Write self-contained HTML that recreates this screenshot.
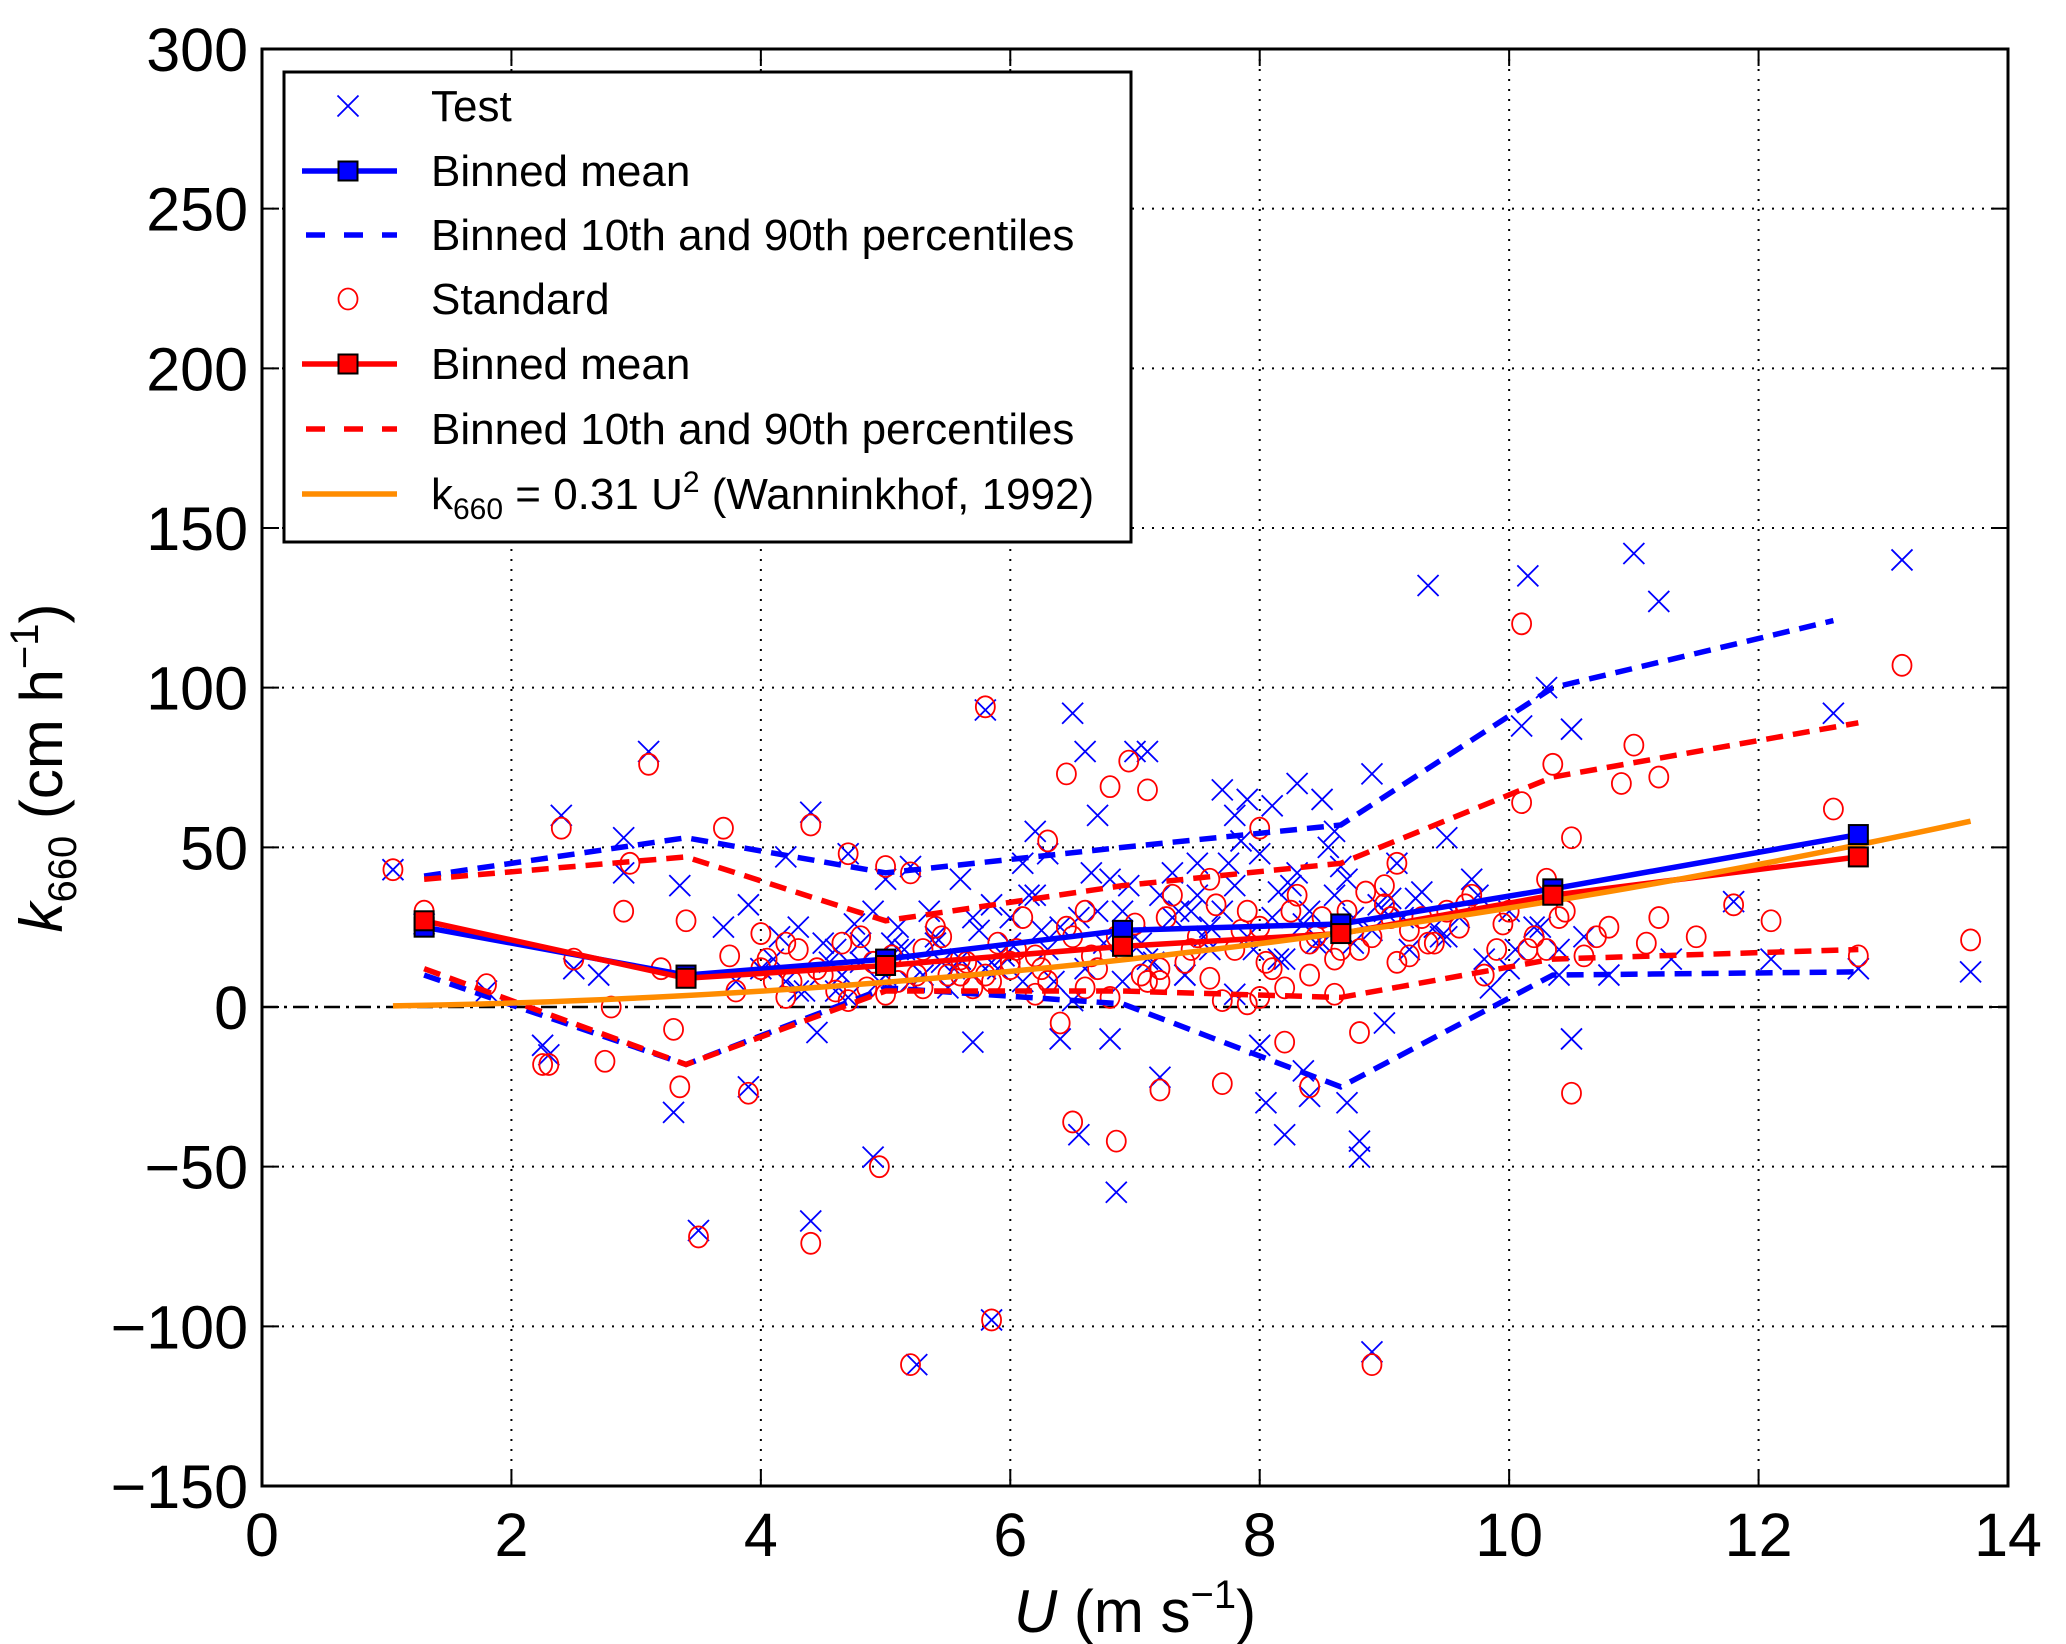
<!DOCTYPE html>
<html><head><meta charset="utf-8"><style>
html,body{margin:0;padding:0;background:#fff;}
svg{display:block;font-family:"Liberation Sans",sans-serif;}
</style></head><body>
<svg id="chart" width="2066" height="1644" viewBox="0 0 2066 1644" xmlns="http://www.w3.org/2000/svg">
<rect width="2066" height="1644" fill="#fff"/>
<g id="grid"></g>
<g id="series"></g>
<g id="axes"></g>
<text x="1135" y="1632" font-size="60" text-anchor="middle"><tspan font-style="italic">U</tspan> (m s<tspan font-size="40" dy="-24">−1</tspan><tspan dy="24">)</tspan></text>
<text transform="translate(62,768) rotate(-90)" font-size="60" text-anchor="middle"><tspan font-style="italic">k</tspan><tspan font-size="40" dy="14">660</tspan><tspan dy="-14"> (cm h</tspan><tspan font-size="40" dy="-24">−1</tspan><tspan dy="24">)</tspan></text>
<g id="legend"></g>
</svg>
<script>
const NS="http://www.w3.org/2000/svg";
const xTicks=[0,2,4,6,8,10,12,14];
const yTicks=[300,250,200,150,100,50,0,-50,-100,-150];
const yTickLabels=["300","250","200","150","100","50","0","−50","−100","−150"];
const binX=[1.3,3.4,5.0,6.9,8.65,10.35,12.8];
const blueMean=[25,10,15,24,26,37,54];
const redMean=[27,9,13,19,23,35,47];
const blueP90X=[1.3,3.4,5.0,6.9,8.65,10.35,12.6];
const blueP90=[41,53,42,50,57,100,121];
const blueP10=[10,-18,6,1,-25,10,11];
const redP90=[40,47,27,38,45,72,89];
const redP10=[12,-18,5,5,3,15,18];
const wannCoef=[0.31];
const wannRange=[1.05,13.7];
const testX=[1.05,1.3,1.8,2.25,2.3,2.4,2.5,2.7,2.9,2.9,3.1,3.3,3.35,3.5,3.7,3.8,3.9,3.9,4.1,4.2,4.3,4.4,4.4,4.45,4.6,4.7,4.8,4.9,5.0,5.0,5.1,5.25,5.2,5.4,5.6,5.7,5.8,5.85,6.0,6.1,6.2,6.3,6.4,6.5,6.55,6.6,6.7,6.8,6.85,6.9,7.0,7.1,7.2,7.3,7.5,7.6,7.7,7.8,7.9,8.0,8.05,8.1,8.2,8.3,8.35,8.4,8.5,8.6,8.7,8.8,8.8,8.9,8.9,9.0,9.1,9.35,9.4,9.5,9.7,10.0,10.1,10.15,10.3,10.4,10.5,10.5,10.8,11.0,11.2,11.3,11.8,12.1,12.6,12.8,13.15,13.7,
4.0,4.2,4.5,4.6,4.8,4.9,5.1,5.3,5.4,5.5,5.6,5.7,5.9,6.0,6.1,6.2,6.3,6.4,6.6,6.7,6.8,7.0,7.1,7.2,7.3,7.4,7.5,7.6,7.7,7.8,7.9,8.0,8.1,8.2,8.3,8.4,8.5,8.6,8.7,8.9,9.0,9.2,9.3,9.5,9.6,9.8,10.0,10.2,10.4,10.6,4.3,4.7,5.2,5.8,6.5,6.9,7.4,7.8,8.15,8.45,8.75,9.25,9.85,
4.15,4.35,4.55,4.75,4.95,5.15,5.35,5.55,5.75,5.95,6.15,6.35,6.55,6.75,6.95,7.15,7.35,7.55,7.75,7.95,8.15,8.35,8.55,8.75,8.95,9.15,9.45,9.75,10.05,10.25,4.65,5.05,5.45,5.85,6.25,6.65,7.05,7.45,7.85,8.25,8.65,9.05];
const testY=[43,26,5,-12,-15,60,12,10,53,42,80,-33,38,-70,25,8,32,-25,15,47,25,61,-67,-8,18,48,20,-47,40,10,25,-112,44,20,40,-11,93,-98,28,45,55,48,-10,92,-40,80,60,-10,-58,30,80,80,-22,42,35,25,68,60,65,-12,-30,63,-40,70,-20,-28,65,55,-30,-42,-47,-108,73,-5,45,132,25,53,40,12,88,135,100,10,-10,87,10,142,127,15,33,15,92,12,140,11,
12,8,20,5,14,30,18,10,22,6,15,28,12,20,8,35,18,25,12,30,40,22,15,35,28,10,45,18,30,38,22,48,28,15,42,30,20,35,40,24,30,18,36,22,28,15,30,25,18,22,5,3,8,12,2,8,10,4,15,20,28,34,6,
22,5,14,26,8,18,30,12,24,16,35,8,28,20,38,14,30,22,45,18,36,26,50,20,32,28,22,35,18,25,10,20,14,32,24,42,20,30,52,38,44,34];
const stdX=[1.05,1.3,1.8,2.25,2.3,2.4,2.5,2.75,2.8,2.9,2.95,3.1,3.2,3.3,3.35,3.4,3.5,3.7,3.75,3.9,4.0,4.2,4.4,4.4,4.7,4.95,5.0,5.2,5.2,5.8,5.85,6.3,6.4,6.45,6.5,6.8,6.85,6.95,7.1,7.2,7.7,7.9,8.0,8.2,8.4,8.8,8.9,9.0,9.1,9.5,10.1,10.1,10.3,10.35,10.5,10.5,10.9,11.0,11.2,11.2,11.8,12.1,12.6,12.8,13.15,13.7,
3.8,4.0,4.1,4.3,4.5,4.6,4.8,4.9,5.1,5.3,5.4,5.5,5.6,5.7,5.9,6.0,6.1,6.2,6.3,6.5,6.6,6.7,6.9,7.0,7.1,7.3,7.4,7.5,7.6,7.8,7.9,8.0,8.1,8.3,8.4,8.5,8.6,8.7,8.9,9.0,9.2,9.3,9.4,9.6,9.7,9.9,10.0,10.2,10.4,10.6,10.8,11.1,4.2,4.7,5.3,5.8,6.2,6.8,7.2,7.7,8.2,8.6,9.1,9.8,10.3,11.5,
4.05,4.25,4.45,4.65,4.85,5.05,5.25,5.45,5.65,5.85,6.05,6.25,6.45,6.65,6.85,7.05,7.25,7.45,7.65,7.85,8.05,8.25,8.45,8.65,8.85,9.05,9.35,9.65,9.95,10.15,10.45,10.7,5.0,5.6,6.0,6.6,7.2,7.6,8.0,8.4,8.8,9.2];
const stdY=[43,30,7,-18,-18,56,15,-17,0,30,45,76,12,-7,-25,27,-72,56,16,-27,23,20,57,-74,48,-50,44,-112,42,94,-98,52,-5,73,-36,69,-42,77,68,-26,-24,1,56,-11,-25,-8,-112,32,45,30,64,120,40,76,53,-27,70,82,72,28,32,27,62,16,107,21,
5,12,8,18,10,5,22,14,8,18,25,10,15,6,20,12,28,16,8,22,30,12,18,26,8,35,14,22,40,18,30,25,12,35,20,28,15,30,22,38,16,28,20,25,35,18,30,22,28,16,25,20,3,2,6,10,4,3,8,2,6,4,14,10,18,22,
15,8,12,20,6,16,10,22,14,8,18,12,25,16,22,10,28,18,32,24,14,30,22,18,36,28,20,32,26,18,30,22,4,10,14,6,12,9,3,10,18,24];

const L=262,R=2008,T=49,B=1486;
const sx=v=>L+(v-0)/(14-0)*(R-L);
const sy=v=>T+(300-v)/(300-(-150))*(B-T);
function el(tag,attrs,parent){const e=document.createElementNS(NS,tag);for(const k in attrs)e.setAttribute(k,attrs[k]);parent.appendChild(e);return e;}
const grid=document.getElementById('grid'),series=document.getElementById('series'),axes=document.getElementById('axes'),legend=document.getElementById('legend');

xTicks.forEach((t,i)=>{
  const x=sx(t);
  if(i>0&&i<xTicks.length-1){const g=el('line',{x1:x,x2:x,y1:T,y2:B,stroke:'#000','stroke-width':2,'stroke-dasharray':'2,8'},grid);
  
  }
  const tk=el('path',{d:`M${x},${B}v-17M${x},${T}v17`,stroke:'#000','stroke-width':2},axes);
  
  
  const lb=el('text',{x:x,y:1556,'font-size':61,'text-anchor':'middle'},axes);
  lb.textContent=String(t);
  
  
});
yTicks.forEach((t,i)=>{
  const y=sy(t);
  if(i>0&&i<yTicks.length-1&&t!==0){const g=el('line',{x1:L,x2:R,y1:y,y2:y,stroke:'#000','stroke-width':2,'stroke-dasharray':'2,8'},grid);
  
  }
  const tk=el('path',{d:`M${L},${y}h17M${R},${y}h-17`,stroke:'#000','stroke-width':2},axes);
  
  
  const lb=el('text',{x:248,y:y+22,'font-size':61,'text-anchor':'end'},axes);
  lb.textContent=yTickLabels[i];
  
  
});
const zl=el('line',{x1:L,x2:R,y1:sy(0),y2:sy(0),stroke:'#000','stroke-width':2.5,'stroke-dasharray':'16,6,3,6'},grid);



const blue='#0000ff',red='#ff0000',orange='#ff8c00';
function cross(x,y,c,parent){const s=10.5;const p=el('path',{d:`M${x-s},${y-s}L${x+s},${y+s}M${x-s},${y+s}L${x+s},${y-s}`,stroke:c,'stroke-width':1.8,fill:'none'},parent);return p;}
function circ(x,y,c,parent){return el('ellipse',{cx:x,cy:y,rx:9.5,ry:10.5,stroke:c,'stroke-width':1.8,fill:'none'},parent);}
testX.forEach((v,i)=>{const p=cross(sx(v),sy(testY[i]),blue,series);
  
  });
stdX.forEach((v,i)=>{const p=circ(sx(v),sy(stdY[i]),red,series);
  
  });
function poly(xs,ys,c,dash,name){const d=xs.map((v,i)=>(i?'L':'M')+sx(v)+','+sy(ys[i])).join('');
  const p=el('path',{d:d,stroke:c,'stroke-width':5.5,fill:'none','stroke-dasharray':dash?'17,10':'none'},series);
  
  }
poly(blueP90X,blueP90,blue,true,'test-p90-line');
poly(binX,blueP10,blue,true,'test-p10-line');
poly(binX,redP90,red,true,'standard-p90-line');
poly(binX,redP10,red,true,'standard-p10-line');
poly(binX,blueMean,blue,false,'test-binned-mean-line');
poly(binX,redMean,red,false,'standard-binned-mean-line');
(function(){let d='';const n=60;for(let i=0;i<=n;i++){const u=wannRange[0]+(wannRange[1]-wannRange[0])*i/n;d+=(i?'L':'M')+sx(u)+','+sy(wannCoef[0]*u*u);}
 const p=el('path',{d:d,stroke:orange,'stroke-width':5.5,fill:'none'},series);
 
 })();
function squares(ys,c,name){binX.forEach((v,i)=>{const q=el('rect',{x:sx(v)-9.5,y:sy(ys[i])-9.5,width:19,height:19,fill:c,stroke:'#000','stroke-width':2},series);
  
  });}
squares(blueMean,blue,'test-binned-mean-marker');
squares(redMean,red,'standard-binned-mean-marker');

const frame=el('rect',{x:L,y:T,width:R-L,height:B-T,fill:'none',stroke:'#000','stroke-width':3},axes);



const lb=el('rect',{x:284,y:72,width:847,height:470,fill:'#fff',stroke:'#000','stroke-width':3},legend);


const rows=[106,171,235,299,364,429,494];
const lx1=302,lx2=397,mx=348,tx=431;
function ltext(y,html,name){const t=el('text',{x:tx,y:y+15,'font-size':44},legend);t.innerHTML=html;
  
  }
let m;
m=cross(mx,rows[0],blue,legend);
ltext(rows[0],'Test','legend-test');
m=el('line',{x1:lx1,x2:lx2,y1:rows[1],y2:rows[1],stroke:blue,'stroke-width':5.5},legend);
m=el('rect',{x:mx-9.5,y:rows[1]-9.5,width:19,height:19,fill:blue,stroke:'#000','stroke-width':2},legend);
ltext(rows[1],'Binned mean','legend-test-mean');
m=el('line',{x1:lx1+4,x2:lx2,y1:rows[2],y2:rows[2],stroke:blue,'stroke-width':5.5,'stroke-dasharray':'19,19'},legend);
ltext(rows[2],'Binned 10th and 90th percentiles','legend-test-percentiles');
m=circ(mx,rows[3],red,legend);
ltext(rows[3],'Standard','legend-standard');
m=el('line',{x1:lx1,x2:lx2,y1:rows[4],y2:rows[4],stroke:red,'stroke-width':5.5},legend);
m=el('rect',{x:mx-9.5,y:rows[4]-9.5,width:19,height:19,fill:red,stroke:'#000','stroke-width':2},legend);
ltext(rows[4],'Binned mean','legend-standard-mean');
m=el('line',{x1:lx1+4,x2:lx2,y1:rows[5],y2:rows[5],stroke:red,'stroke-width':5.5,'stroke-dasharray':'19,19'},legend);
ltext(rows[5],'Binned 10th and 90th percentiles','legend-standard-percentiles');
m=el('line',{x1:lx1,x2:lx2,y1:rows[6],y2:rows[6],stroke:orange,'stroke-width':5.5},legend);
ltext(rows[6],'k<tspan font-size="30" dy="10">660</tspan><tspan dy="-10"> = 0.31 U</tspan><tspan font-size="30" dy="-17">2</tspan><tspan dy="17"> (Wanninkhof, 1992)</tspan>','legend-wanninkhof');
</script>
</body></html>
